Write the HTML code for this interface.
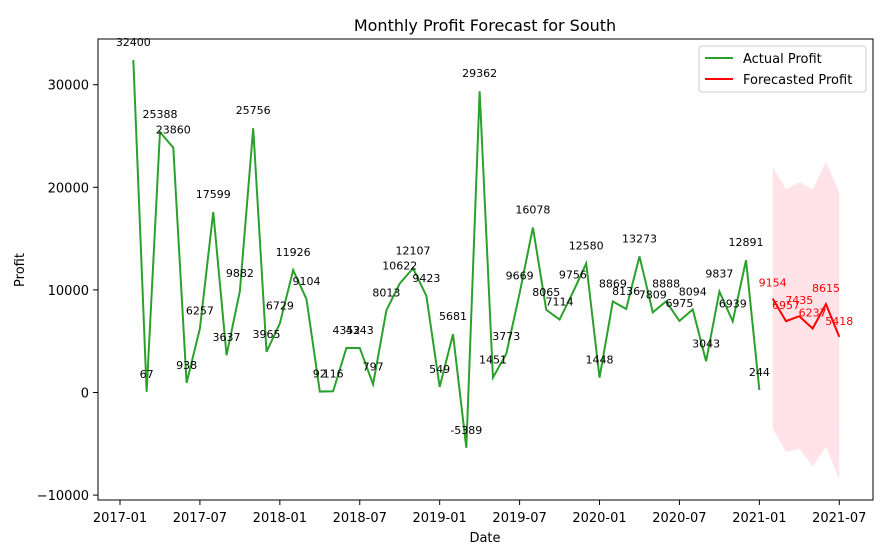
<!DOCTYPE html>
<html><head><meta charset="utf-8"><style>
body{margin:0;background:#fff;font-family:"Liberation Sans","DejaVu Sans",sans-serif}
svg text{font-family:"DejaVu Sans","Liberation Sans",sans-serif}
</style></head><body>
<svg id="chart" width="884" height="554" xmlns="http://www.w3.org/2000/svg">
<rect width="884" height="554" fill="#fff"/>
<text x="485" y="31" text-anchor="middle" font-size="16">Monthly Profit Forecast for South</text>
<g id="band"></g><g id="lines"></g><g id="labels"></g><g id="axes"></g>
<rect x="98" y="39" width="775" height="461" fill="none" stroke="#000" stroke-width="1"/>
<text x="485" y="542" text-anchor="middle" font-size="13">Date</text>
<text x="24" y="270" text-anchor="middle" font-size="13" transform="rotate(-90 24 270)">Profit</text>
<g>
<rect x="699" y="46" width="167" height="46" rx="3" fill="#fff" stroke="#ccc"/>
<line x1="705" y1="58" x2="733" y2="58" stroke="#2ca02c" stroke-width="2"/>
<text x="743" y="63" font-size="13">Actual Profit</text>
<line x1="705" y1="79" x2="733" y2="79" stroke="red" stroke-width="2"/>
<text x="743" y="84" font-size="13">Forecasted Profit</text>
</g>
</svg>
<script>
const actualValues=[32400,67,25388,23860,938,6257,17599,3637,9882,25756,3965,6729,11926,9104,92,116,4352,4343,797,8013,10622,12107,9423,549,5681,-5389,29362,1451,3773,9669,16078,8065,7114,9756,12580,1448,8869,8136,13273,7809,8888,6975,8094,3043,9837,6939,12891,244];
const forecastValues=[9154,6957,7435,6237,8615,5418];
const upperBound=[22000,19800,20500,19800,22500,19500];
const lowerBound=[-3500,-5800,-5500,-7200,-5300,-8500];
const yTicks=[-10000,0,10000,20000,30000];
const xTickLabels=["2017-01","2017-07","2018-01","2018-07","2019-01","2019-07","2020-01","2020-07","2021-01","2021-07"];
const NS="http://www.w3.org/2000/svg";
const x=m=>120+m*13.32; // m = months since 2017-01
const y=v=>392.5-v*0.01026;
function mk(tag,attrs,parent){const e=document.createElementNS(NS,tag);for(const k in attrs)e.setAttribute(k,attrs[k]);document.getElementById(parent).appendChild(e);return e;}
// band
let pts=upperBound.map((v,i)=>x(49+i)+","+y(v)).concat(lowerBound.map((v,i)=>x(49+i)+","+y(v)).reverse());
let b=mk("polygon",{points:pts.join(" "),fill:"#ffc0cb",opacity:"0.45"},"band");


let a=mk("polyline",{points:actualValues.map((v,i)=>x(1+i)+","+y(v)).join(" "),fill:"none",stroke:"#2ca02c","stroke-width":"2"},"lines");


let f=mk("polyline",{points:forecastValues.map((v,i)=>x(49+i)+","+y(v)).join(" "),fill:"none",stroke:"red","stroke-width":"2"},"lines");


actualValues.forEach((v,i)=>{const t=mk("text",{x:x(1+i),y:y(v)-14,"font-size":"11","text-anchor":"middle"},"labels");t.textContent=v;

});
forecastValues.forEach((v,i)=>{const t=mk("text",{x:x(49+i),y:y(v)-12,"font-size":"11","text-anchor":"middle",fill:"red"},"labels");t.textContent=v;

});
yTicks.forEach(v=>{mk("line",{x1:93,x2:98,y1:y(v),y2:y(v),stroke:"#000"},"axes");
const t=mk("text",{x:89,y:y(v)+5,"font-size":"13","text-anchor":"end"},"axes");t.textContent=v<0?"\u2212"+(-v):v;

});
xTickLabels.forEach((l,i)=>{const xx=x(i*6);mk("line",{x1:xx,x2:xx,y1:500,y2:505,stroke:"#000"},"axes");
const t=mk("text",{x:xx,y:522,"font-size":"13","text-anchor":"middle"},"axes");t.textContent=l;

});
</script>
</body></html>
